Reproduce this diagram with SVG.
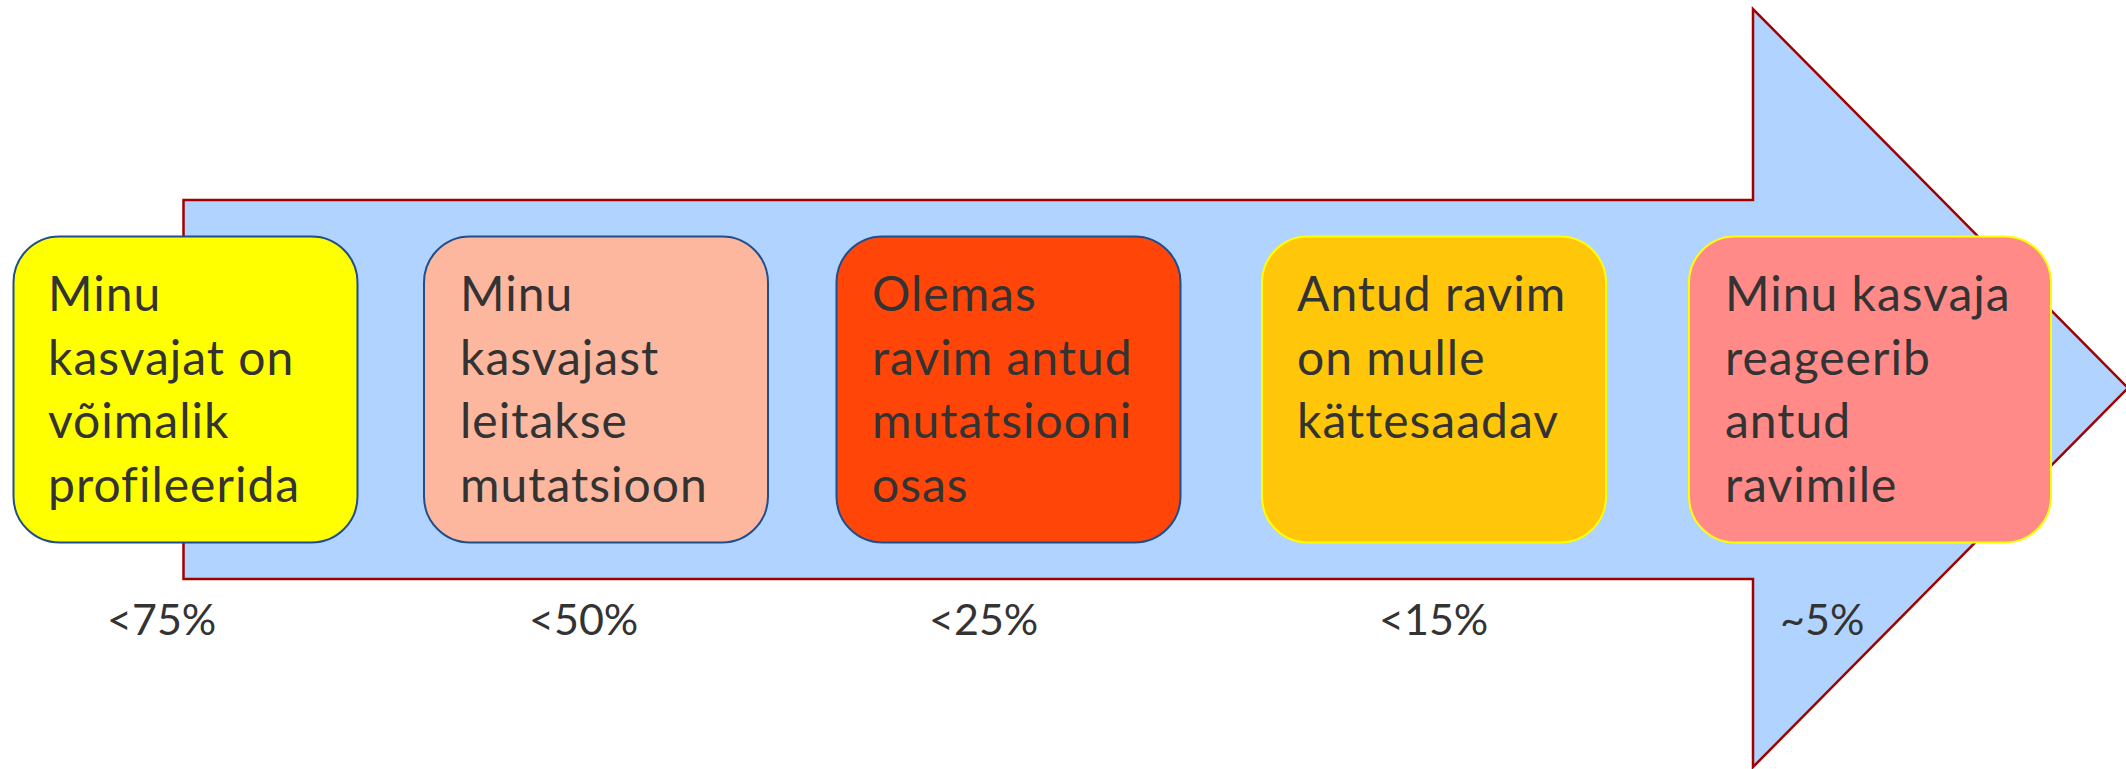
<svg xmlns="http://www.w3.org/2000/svg" width="2126" height="769" viewBox="0 0 2126 769">
  <style>
    .box { stroke-width: 2; }
    .navy { stroke: #1F4E8C; }
    .yel { stroke: #FFFF00; }
    .lbl { font-family: Lato, "Liberation Sans", sans-serif; font-size: 48px; letter-spacing: 1px; fill: #333333; }
    .pct { font-family: Lato, "Liberation Sans", sans-serif; font-size: 43px; fill: #333333; }
  </style>

  <!-- big block arrow in the background -->
  <g id="arrow">
    <polygon points="183.5,200 1753,200 1753,9 2128,388 1753,767 1753,579 183.5,579"
             fill="#B0D4FF" stroke="#A00000" stroke-width="2.5" stroke-linejoin="miter"/>
  </g>

  <g id="connectors"></g>

  <g id="step1">
    <rect class="box navy" x="13.5" y="236.5" width="344" height="306" rx="46" fill="#FFFF00"/>
    <text class="lbl">
      <tspan x="48" y="311">Minu</tspan>
      <tspan x="48" y="374.5">kasvajat on</tspan>
      <tspan x="48" y="438">võimalik</tspan>
      <tspan x="48" y="502">profileerida</tspan>
    </text>
  </g>

  <g id="step2">
    <rect class="box navy" x="424" y="236.5" width="344" height="306" rx="46" fill="#FDB79E"/>
    <text class="lbl">
      <tspan x="460" y="311">Minu</tspan>
      <tspan x="460" y="374.5">kasvajast</tspan>
      <tspan x="460" y="438">leitakse</tspan>
      <tspan x="460" y="502">mutatsioon</tspan>
    </text>
  </g>

  <g id="step3">
    <rect class="box navy" x="836.5" y="236.5" width="344" height="306" rx="46" fill="#FF4608"/>
    <text class="lbl">
      <tspan x="872" y="311">Olemas</tspan>
      <tspan x="872" y="374.5">ravim antud</tspan>
      <tspan x="872" y="438">mutatsiooni</tspan>
      <tspan x="872" y="502">osas</tspan>
    </text>
  </g>

  <g id="step4">
    <rect class="box yel" x="1262" y="236.5" width="344" height="306" rx="46" fill="#FFC60A"/>
    <text class="lbl">
      <tspan x="1297" y="311">Antud ravim</tspan>
      <tspan x="1297" y="374.5">on mulle</tspan>
      <tspan x="1297" y="438">kättesaadav</tspan>
    </text>
  </g>

  <g id="step5">
    <rect class="box yel" x="1689" y="236.5" width="362" height="306" rx="46" fill="#FF8A88"/>
    <text class="lbl">
      <tspan x="1725" y="311">Minu kasvaja</tspan>
      <tspan x="1725" y="374.5">reageerib</tspan>
      <tspan x="1725" y="438">antud</tspan>
      <tspan x="1725" y="502">ravimile</tspan>
    </text>
  </g>

  <!-- share of patients at each step -->
  <g id="percentages">
    <text class="pct" x="107" y="635">&lt;75%</text>
    <text class="pct" x="529" y="635">&lt;50%</text>
    <text class="pct" x="929" y="635">&lt;25%</text>
    <text class="pct" x="1379" y="635">&lt;15%</text>
    <text class="pct" x="1780" y="635">~5%</text>
  </g>
</svg>
